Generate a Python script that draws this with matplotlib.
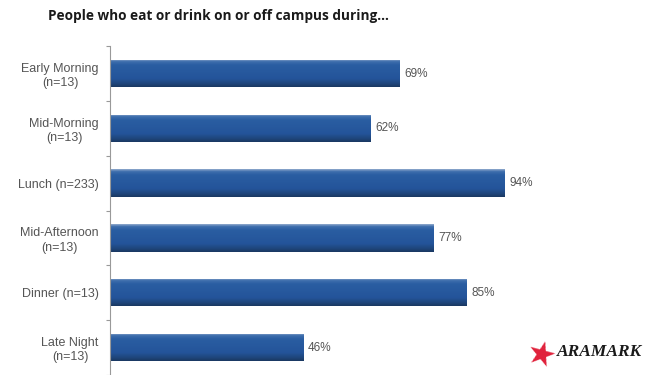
import numpy as np
import matplotlib.pyplot as plt
from matplotlib.colors import LinearSegmentedColormap

# Share of people eating or drinking on/off campus by time of day
categories = ['Early Morning\n(n=13)', 'Mid-Morning\n(n=13)', 'Lunch (n=233)',
              'Mid-Afternoon\n(n=13)', 'Dinner (n=13)', 'Late Night\n(n=13)']
percents = [69, 62, 94, 77, 85, 46]

plt.rcParams['font.family'] = ['Liberation Sans', 'DejaVu Sans']

fig = plt.figure(figsize=(6.45, 3.75), dpi=100)
ax = fig.add_axes([0.1705, 0.0, 0.651, 0.877])

y = list(range(len(categories)))
bars = ax.barh(y, percents, height=0.5, color='#24549a', edgecolor='none')

# vertical shading on each bar: thin light top edge, dark bottom edge
shade = LinearSegmentedColormap.from_list(
    'barshade', [(0.0, '#1a3862'), (0.12, '#1f467c'), (0.3, '#24549a'),
                 (0.8, '#2a5ea2'), (0.92, '#3f6fad'), (1.0, '#8fa9cc')])
grad = np.linspace(0, 1, 64).reshape(-1, 1)
for b in bars:
    x0, y0, w, h = b.get_x(), b.get_y(), b.get_width(), b.get_height()
    # y axis is inverted, so the image runs from y0 + h (bottom) up to y0 (top)
    im = ax.imshow(grad, cmap=shade, aspect='auto', origin='lower',
                   extent=(x0, x0 + w, y0 + h, y0), zorder=2)
    im.set_clip_path(b)

for yi, v in zip(y, percents):
    ax.text(v + 1.2, yi, f'{v}%', va='center', ha='left', fontsize=8.5, color='#555555')

ax.set_xlim(0, 100)
ax.set_ylim(len(categories) - 0.5, -0.5)

# ticks between categories on the left spine
ax.set_yticks([i - 0.5 for i in range(len(categories) + 1)])
ax.set_yticklabels([])
ax.set_yticks(y, minor=True)
ax.set_yticklabels(categories, minor=True, fontsize=9, color='#555555',
                   multialignment='center', linespacing=1.25)
ax.tick_params(axis='y', which='minor', length=0, pad=8)
ax.tick_params(axis='y', which='major', length=3, color='#999999', width=0.8)
ax.set_xticks([])

for side in ['top', 'right', 'bottom']:
    ax.spines[side].set_visible(False)
ax.spines['left'].set_color('#999999')
ax.spines['left'].set_linewidth(0.8)

fig.text(0.074, 0.957, 'People who eat or drink on or off campus during...',
         fontsize=9.8, fontweight='bold', color='#1a1a1a', family=['Open Sans', 'DejaVu Sans'],
         va='center', ha='left')

# logo mark in the corner
fig.text(0.838, 0.05, '\u2605', fontsize=24, color='#e0203a', ha='center', va='center',
         family=['DejaVu Sans'], rotation=-15)
fig.text(0.864, 0.062, 'ARAMARK', fontsize=12.5, fontweight='bold', fontstyle='italic',
         color='#1a1a1a', ha='left', va='center', family=['Liberation Serif', 'DejaVu Serif'])

fig.savefig('out.png', dpi=100)
